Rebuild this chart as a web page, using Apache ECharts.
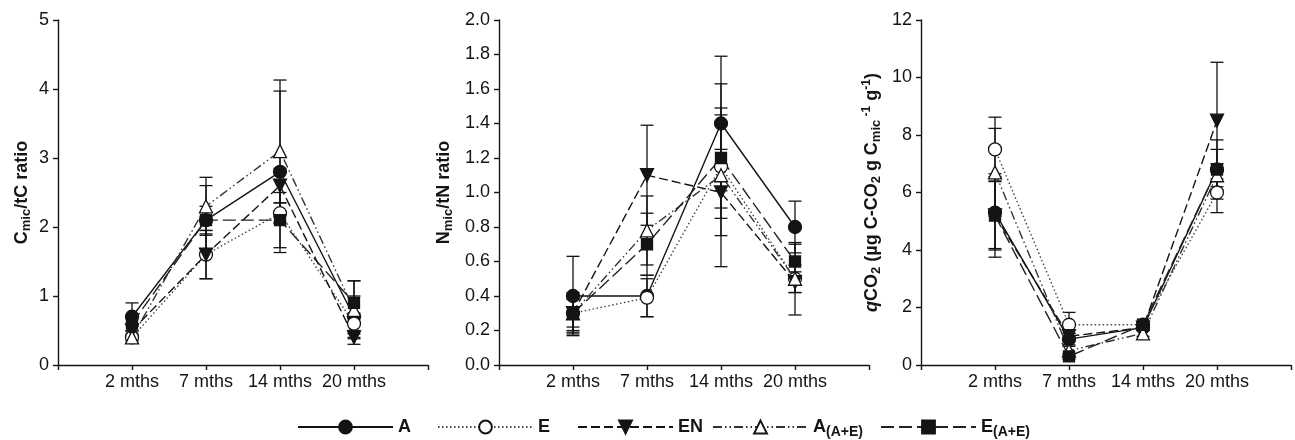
<!DOCTYPE html>
<html>
<head>
<meta charset="utf-8">
<script src="https://cdn.jsdelivr.net/npm/echarts@6/dist/echarts.min.js"></script>
<style>
html, body { margin: 0; padding: 0; background: #fff; }
#main { width: 1295px; height: 440px; }
</style>
</head>
<body>
<div id="main"></div>
<script>
var months = ['2 mths', '7 mths', '14 mths', '20 mths'];
var names = ['A', 'E', 'EN', 'A(A+E)', 'E(A+E)'];

// Cmic/tC ratio
var cmicA   = [0.7, 2.1, 2.8, 0.7];
var cmicE   = [0.4, 1.6, 2.2, 0.6];
var cmicEN  = [0.5, 1.6, 2.6, 0.4];
var cmicAAE = [0.4, 2.3, 3.1, 0.8];
var cmicEAE = [0.6, 2.1, 2.1, 0.9];
var cmicErr = [
    [0.2, 0.5, 1.17, 0.3],
    [0.05, 0.35, 0.15, 0.15],
    [0.1, 0.35, 0.25, 0.1],
    [0.08, 0.42, 1.03, 0.42],
    [0.1, 0.2, 0.4, 0.32]
];

// Nmic/tN ratio
var nmicA   = [0.4, 0.4, 1.4, 0.8];
var nmicE   = [0.3, 0.39, 1.15, 0.5];
var nmicEN  = [0.3, 1.1, 1.0, 0.48];
var nmicAAE = [0.3, 0.78, 1.1, 0.5];
var nmicEAE = [0.3, 0.7, 1.2, 0.6];
var nmicErr = [
    [0.23, 0.12, 0.39, 0.15],
    [0.1, 0.11, 0.3, 0.08],
    [0.11, 0.29, 0.25, 0.06],
    [0.12, 0.2, 0.53, 0.21],
    [0.08, 0.18, 0.29, 0.1]
];

// qCO2
var qA   = [5.3, 0.9, 1.3, 6.8];
var qE   = [7.5, 1.4, 1.4, 6.0];
var qEN  = [5.2, 1.0, 1.3, 8.5];
var qAAE = [6.7, 0.5, 1.1, 6.6];
var qEAE = [5.2, 0.3, 1.4, 6.8];
var qErr = [
    [1.25, 0.2, 0.1, 0.7],
    [1.12, 0.43, 0.1, 0.7],
    [1.45, 0.1, 0.1, 2.03],
    [1.53, 0.15, 0.1, 0.4],
    [1.2, 0.1, 0.1, 1.03]
];

var yTicks = [
    {min: 0, max: 5, interval: 1, digits: 0},
    {min: 0, max: 2, interval: 0.2, digits: 1},
    {min: 0, max: 12, interval: 2, digits: 0}
];

var font = "'Liberation Sans', Arial, sans-serif";
var ink = '#141414';

// look of each treatment
var looks = [
    {symbol: 'circle', size: 13, rot: 0, fill: ink, line: 'solid', lc: ink},
    {symbol: 'circle', size: 13, rot: 0, fill: '#fff', line: [1.5, 2.5], lc: '#444'},
    {symbol: 'triangle', size: 13, rot: 180, fill: ink, line: [9, 4], lc: ink},
    {symbol: 'triangle', size: 13, rot: 0, fill: '#fff', line: [9, 3, 1.5, 3, 1.5, 3], lc: '#333'},
    {symbol: 'rect', size: 11, rot: 0, fill: ink, line: [13, 5], lc: '#222'}
];

var panels = [
    [cmicA, cmicE, cmicEN, cmicAAE, cmicEAE],
    [nmicA, nmicE, nmicEN, nmicAAE, nmicEAE],
    [qA, qE, qEN, qAAE, qEAE]
];
var errs = [cmicErr, nmicErr, qErr];

var gridLefts = [58, 499, 921];
var legendLefts = [297, 437, 577, 712, 880];

var nameRich = {
    n: {fontSize: 18, fontWeight: 'bold', fontFamily: font, color: ink},
    i: {fontSize: 18, fontWeight: 'bold', fontStyle: 'italic', fontFamily: font, color: ink},
    s: {fontSize: 13, fontWeight: 'bold', fontFamily: font, color: ink, padding: [9, 0, 0, 0]},
    p: {fontSize: 12, fontWeight: 'bold', fontFamily: font, color: ink, padding: [0, 0, 10, 0]}
};
var axisNames = [
    '{n|C}{s|mic}{n|/tC ratio}',
    '{n|N}{s|mic}{n|/tN ratio}',
    '{i|q}{n|CO}{s|2}{n| (µg C-CO}{s|2}{n| g C}{s|mic}{p| -1}{n| g}{p|-1}{n|)}'
];
var nameGaps = [25, 44, 38];

function renderErr(params, api) {
    var x = api.value(0);
    var lo = api.coord([x, api.value(1)]);
    var hi = api.coord([x, api.value(2)]);
    var w = 6.5;
    var st = {stroke: ink, lineWidth: 1.3};
    return {
        type: 'group',
        children: [
            {type: 'line', shape: {x1: hi[0], y1: hi[1], x2: lo[0], y2: lo[1]}, style: st},
            {type: 'line', shape: {x1: hi[0] - w, y1: hi[1], x2: hi[0] + w, y2: hi[1]}, style: st},
            {type: 'line', shape: {x1: lo[0] - w, y1: lo[1], x2: lo[0] + w, y2: lo[1]}, style: st}
        ]
    };
}

var grids = [], xAxes = [], yAxes = [], series = [];

panels.forEach(function (vals, g) {
    grids.push({left: gridLefts[g], width: 370, top: 20, height: 345});
    xAxes.push({
        type: 'value', gridIndex: g, min: 0, max: 5, interval: 1,
        splitLine: {show: false},
        axisLine: {lineStyle: {color: ink, width: 1.4}},
        axisTick: {length: 5, lineStyle: {color: ink, width: 1.4}},
        axisLabel: {
            margin: 8, fontSize: 18, fontFamily: font, color: ink,
            formatter: function (v) { return months[v - 1] || ''; }
        }
    });
    var t = yTicks[g];
    yAxes.push({
        type: 'value', gridIndex: g, min: t.min, max: t.max, interval: t.interval,
        splitLine: {show: false},
        axisLine: {show: true, lineStyle: {color: ink, width: 1.4}},
        axisTick: {show: true, length: 5, lineStyle: {color: ink, width: 1.4}},
        axisLabel: {
            margin: 9, fontSize: 18, fontFamily: font, color: ink,
            formatter: function (v) { return v.toFixed(t.digits); }
        },
        name: axisNames[g],
        nameLocation: 'middle',
        nameRotate: 90,
        nameGap: nameGaps[g],
        nameTextStyle: {rich: nameRich}
    });

    var errData = [];
    vals.forEach(function (arr, k) {
        arr.forEach(function (v, j) {
            var e = errs[g][k][j];
            errData.push([j + 1, v - e, v + e]);
        });
    });
    series.push({
        type: 'custom', name: 'err' + g, xAxisIndex: g, yAxisIndex: g, z: 1,
        renderItem: renderErr, encode: {x: 0, y: [1, 2]},
        data: errData, silent: true
    });

    vals.forEach(function (arr, k) {
        var lk = looks[k];
        series.push({
            type: 'line', name: names[k], xAxisIndex: g, yAxisIndex: g, z: 2,
            data: arr.map(function (v, j) { return [j + 1, v]; }),
            symbol: lk.symbol, symbolSize: lk.size, symbolRotate: lk.rot,
            showAllSymbol: true,
            lineStyle: {color: lk.lc, width: 1.4, type: lk.line},
            itemStyle: {color: lk.fill, borderColor: ink, borderWidth: 1.3},
            emphasis: {disabled: true},
            animation: false
        });
    });
});

// one legend per item, so each sits in its own fixed column
var legends = names.map(function (nm, k) {
    return {
        data: [nm],
        left: legendLefts[k],
        top: 418,
        itemWidth: 95,
        itemHeight: 16,
        padding: 0,
        textStyle: {
            fontSize: 18, fontWeight: 'bold', fontFamily: font, color: ink,
            rich: {
                b: {fontSize: 18, fontWeight: 'bold', fontFamily: font, color: ink},
                s: {fontSize: 14, fontWeight: 'bold', fontFamily: font, color: ink, padding: [10, 0, 0, 0]}
            }
        },
        formatter: function (name) {
            var i = name.indexOf('(');
            if (i < 0) return '{b|' + name + '}';
            return '{b|' + name.slice(0, i) + '}{s|' + name.slice(i) + '}';
        }
    };
});

var myChart = echarts.init(document.getElementById('main'));
myChart.setOption({
    backgroundColor: '#fff',
    animation: false,
    grid: grids,
    xAxis: xAxes,
    yAxis: yAxes,
    legend: legends,
    series: series
});
</script>
</body>
</html>
